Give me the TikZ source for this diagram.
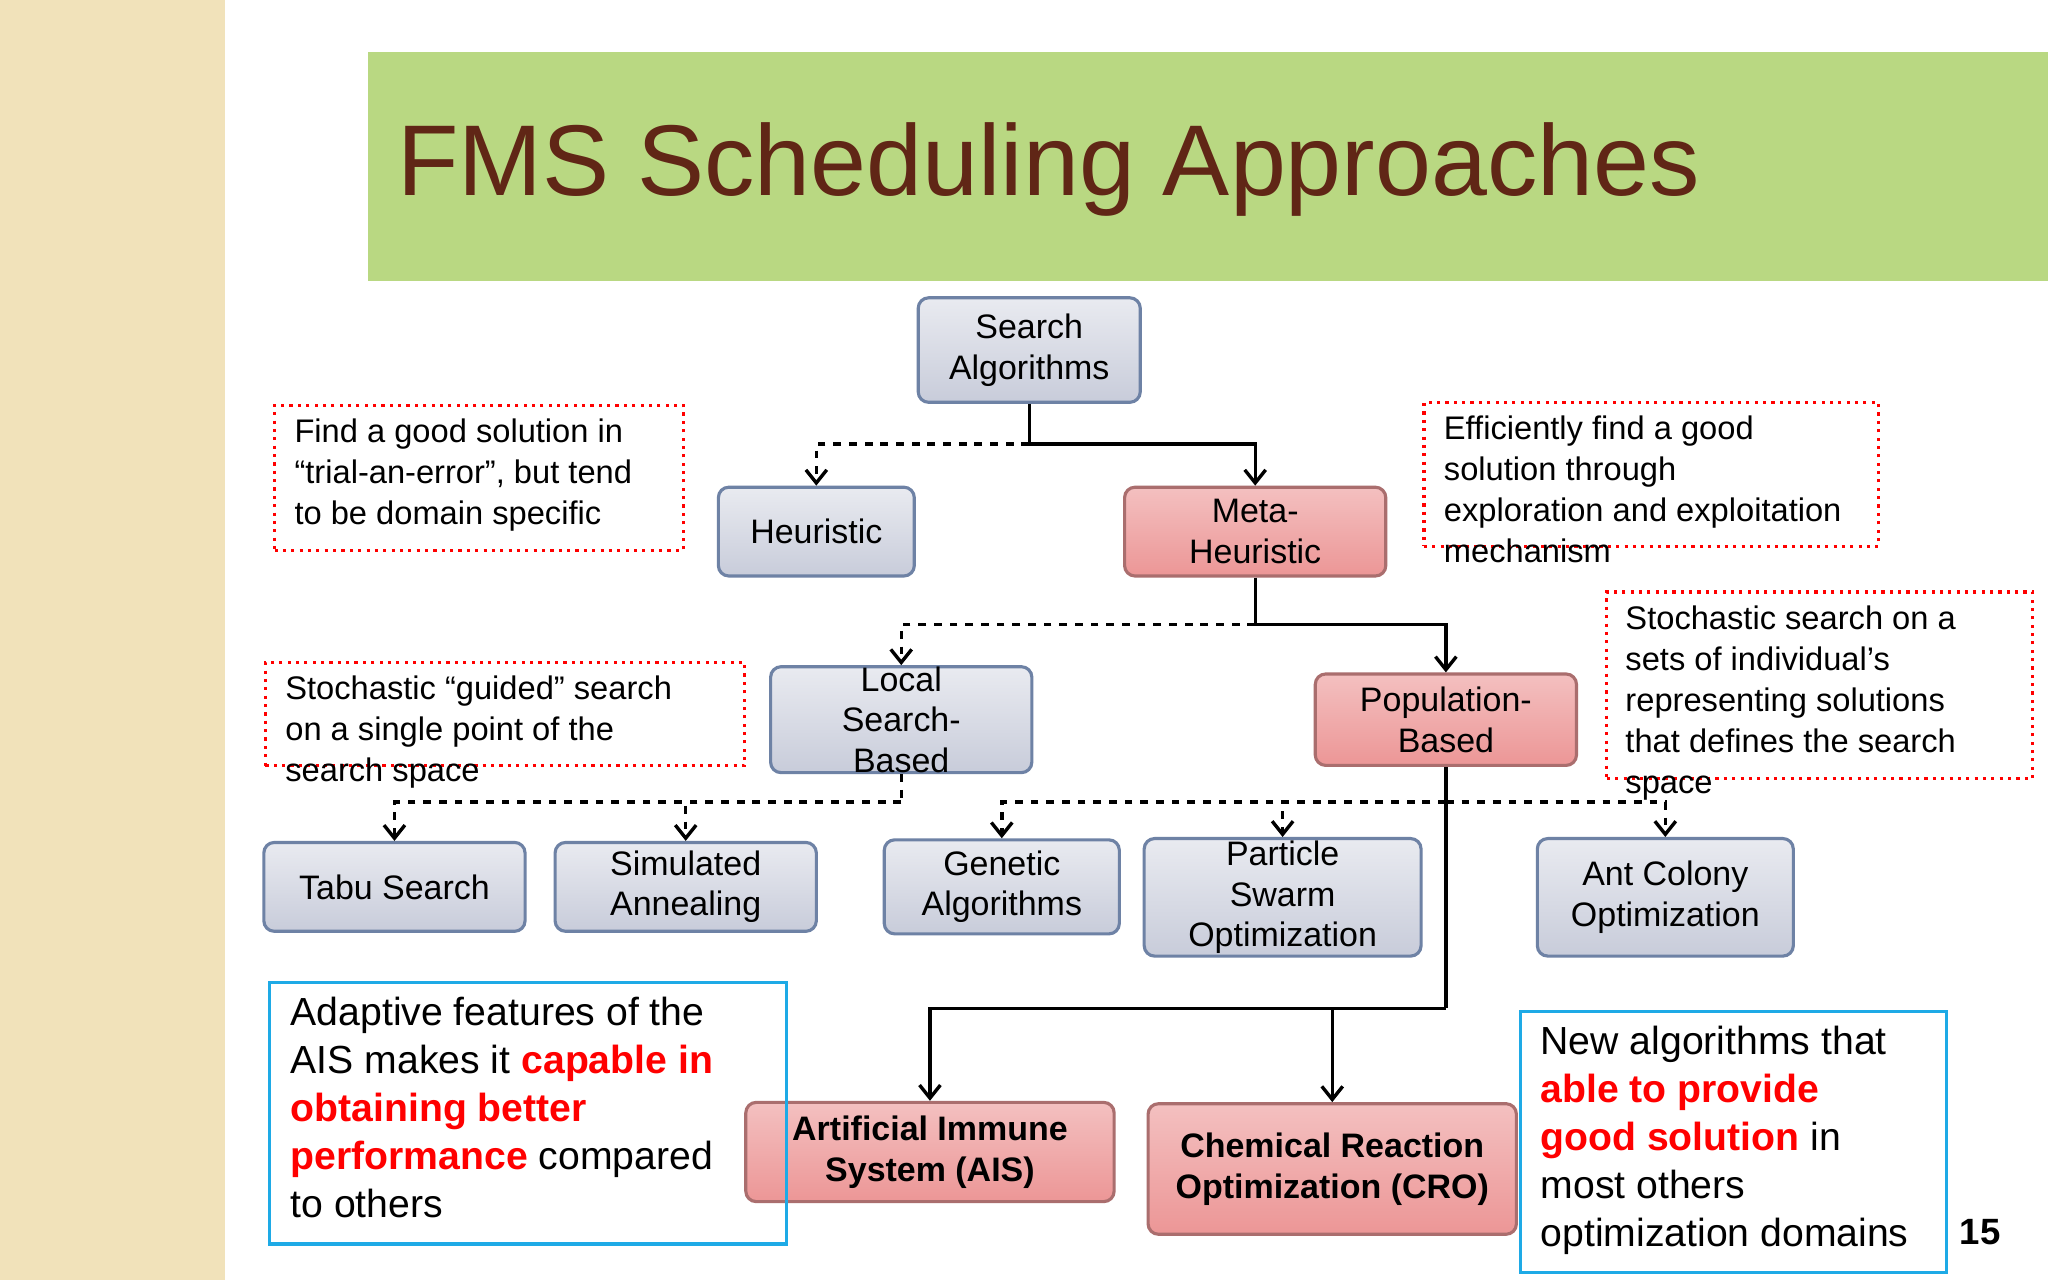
\documentclass[tikz,border=0pt]{standalone}
\usepackage{fontspec}
\setmainfont{Liberation Sans}
\usetikzlibrary{arrows.meta}
\definecolor{beige}{RGB}{241,226,186}
\definecolor{titlegreen}{RGB}{185,216,130}
\definecolor{titlebrown}{RGB}{96,38,22}
\definecolor{boxline}{RGB}{110,130,165}
\definecolor{boxfill}{RGB}{200,204,218}
\definecolor{pinkfill}{RGB}{236,150,150}
\definecolor{pinkline}{RGB}{170,110,110}
\definecolor{calloutblue}{RGB}{30,170,230}
\tikzset{every picture/.style={line width=0.5pt}}
\tikzset{
  algo/.style={draw=boxline, line width=1.2pt, rounded corners=4pt, top color=boxfill!40, bottom color=boxfill,
    align=center, font=\fontsize{13}{15.5}\selectfont, inner sep=0pt},
  meta/.style={algo, draw=pinkline, top color=pinkfill!60, bottom color=pinkfill},
  note/.style={draw=red, dotted, line width=1.2pt, inner sep=0pt},
  blue note/.style={draw=calloutblue, line width=1.3pt, inner sep=0pt},
  note text/.style={anchor=north west, align=left, font=\fontsize{12.5}{15.7}\selectfont, inner sep=0pt},
  blue text/.style={anchor=north west, align=left, font=\fontsize{15}{18.4}\selectfont, inner sep=0pt},
  link/.style={line width=1.3pt},
  tip/.style={-{Straight Barb[length=5pt,width=8pt]}},
}
\begin{document}
\begin{tikzpicture}[x=0.5pt,y=0.5pt,yscale=-1]
\useasboundingbox (0,0) rectangle (1568,980);
\fill[white] (0,0) rectangle (1568,980);

% side strip and title band
\fill[beige] (0,0) rectangle (172,980);
\fill[titlegreen] (282,40) rectangle (1568,215);
\node[anchor=west, text=titlebrown, font=\fontsize{38.5}{40}\selectfont] (title) at (297,130) {FMS Scheduling Approaches};

% algorithm boxes
\node[algo, minimum width=85pt, minimum height=40pt] (search) at (788,268) {Search\\Algorithms};
\node[algo, minimum width=75pt, minimum height=34pt] (heur) at (625,407) {Heuristic};
\node[meta, minimum width=100pt, minimum height=34pt] (metah) at (961,407) {Meta-\\Heuristic};
\node[algo, minimum width=100pt, minimum height=35pt] (local) at (690,551) {Local\\Search-\\Based};
\node[meta, minimum width=100pt, minimum height=35pt] (pop) at (1107,551) {Population-\\Based};
\node[algo, minimum width=100pt, minimum height=34pt] (tabu) at (302,679) {Tabu Search};
\node[algo, minimum width=100pt, minimum height=34pt] (sa) at (525,679) {Simulated\\Annealing};
\node[algo, minimum width=90pt, minimum height=36pt] (ga) at (767,679) {Genetic\\Algorithms};
\node[algo, minimum width=106pt, minimum height=45pt] (pso) at (982,687) {Particle\\Swarm\\Optimization};
\node[algo, minimum width=98pt, minimum height=45pt] (aco) at (1275,687) {Ant Colony\\Optimization};
\node[meta, minimum width=141pt, minimum height=38pt, font=\fontsize{13}{15.5}\selectfont\bfseries] (ais) at (712,882) {Artificial Immune\\System (AIS)};
\node[meta, minimum width=141pt, minimum height=50pt, font=\fontsize{13}{15.5}\selectfont\bfseries] (cro) at (1020,895) {Chemical Reaction\\Optimization (CRO)};

% junctions
\coordinate (j1) at (788,340);
\coordinate (j2) at (961,478);
\coordinate (j3) at (690,614);
\coordinate (j4) at (1107,614);
\coordinate (j5) at (1107,772);

% connectors
\draw[link] (search) -- (j1);
\draw[link, dashed, tip] (j1) -| (heur.north);
\draw[link, tip] (j1) -| (metah.north);
\draw[link] (metah) -- (j2);
\draw[link, dashed, tip] (j2) -| (local.north);
\draw[link, tip] (j2) -| (pop.north);
\draw[link, dashed] (local) -- (j3);
\draw[link, dashed, tip] (j3) -| (tabu.north);
\draw[link, dashed, tip] (j3) -| (sa.north);
\draw[link, dashed, tip] (j4) -| (ga.north);
\draw[link, dashed, tip] (j4) -| (pso.north);
\draw[link, dashed, tip] (j4) -| (aco.north);
\draw[link] (pop) -- (j5);
\draw[link, tip] (j5) -| (ais.north);
\draw[link, tip] (j5) -| (cro.north);

% red dotted notes
\node[note, anchor=north west, minimum width=156.5pt, minimum height=55.5pt] (n1) at (209,309) {};
\node[note text] (t1) at (225,320) {Find a good solution in\\“trial-an-error”, but tend\\to be domain specific};
\node[note, anchor=north west, minimum width=174pt, minimum height=55pt] (n2) at (1089,307) {};
\node[note text] (t2) at (1105,318) {Efficiently find a good\\solution through\\exploration and exploitation\\mechanism};
\node[note, anchor=north west, minimum width=183.5pt, minimum height=39.5pt] (n3) at (202,506) {};
\node[note text] (t3) at (218,517) {Stochastic “guided” search\\on a single point of the\\search space};
\node[note, anchor=north west, minimum width=163pt, minimum height=71.5pt] (n4) at (1229,452) {};
\node[note text] (t4) at (1244,463) {Stochastic search on a\\sets of individual’s\\representing solutions\\that defines the search\\space};

% blue notes
\node[blue note, anchor=north west, minimum width=198pt, minimum height=100pt] (b1) at (205,751) {};
\node[blue text] (tb1) at (222,763) {Adaptive features of the\\AIS makes it \textcolor{red}{\bfseries capable in}\\\textcolor{red}{\bfseries obtaining better}\\\textcolor{red}{\bfseries performance} compared\\to others};
\node[blue note, anchor=north west, minimum width=163pt, minimum height=100pt] (b2) at (1163,773) {};
\node[blue text] (tb2) at (1179,785) {New algorithms that\\\textcolor{red}{\bfseries able to provide}\\\textcolor{red}{\bfseries good solution} in\\most others\\optimization domains};

\node[font=\fontsize{14}{16}\selectfont\bfseries] (page) at (1516,943) {15};
\end{tikzpicture}
\end{document}
